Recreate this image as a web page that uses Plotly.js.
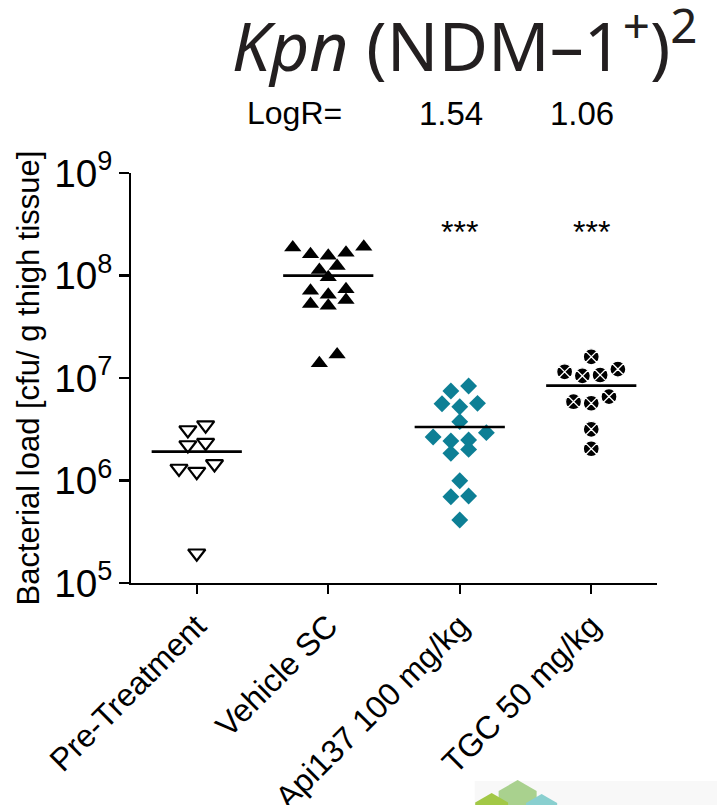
<!DOCTYPE html>
<html>
<head>
<meta charset="utf-8">
<script src="https://cdn.plot.ly/plotly-3.0.1.min.js"></script>
<style>html,body{margin:0;padding:0;background:#fff;}#chart{width:717px;height:805px;}</style>
</head>
<body>
<div id="chart"></div>
<script>
// ---- data ----
const groups = ['Pre-Treatment', 'Vehicle SC', 'Api137 100 mg/kg', 'TGC 50 mg/kg'];
const preTreatment = [3.11e6, 3.47e6, 2.22e6, 2.34e6, 1.31e6, 1.22e6, 1.45e6, 1.95e5];
const vehicleSC = [1.88e8, 1.61e8, 1.56e8, 1.67e8, 1.91e8, 1.24e8, 1.13e8, 9.6e7,
                   7.33e7, 6.5e7, 7.1e7, 5.27e7, 5.07e7, 5.77e7, 1.39e7, 1.70e7];
const api137 = [8.35e6, 7.47e6, 5.66e6, 5.25e6, 5.61e6, 3.75e6, 2.66e6, 2.93e6,
                2.43e6, 2.48e6, 1.84e6, 2.01e6, 9.95e5, 7.06e5, 6.95e5, 4.12e5];
const tgc = [1.61e7, 1.22e7, 1.07e7, 1.05e7, 1.15e7, 6.58e6, 5.67e6, 5.87e6, 3.16e6, 2.04e6];
const logR = ['', '', '1.54', '1.06'];
const significance = ['', '', '***', '***'];
const yExponents = [5, 9];   // axis spans 10^5 .. 10^9
const logRLabel = 'LogR=';
const yTitle = 'Bacterial load [cfu/ g thigh tissue]';

// ---- helpers ----
const SLOT = 0.135;      // horizontal spacing of swarm columns (category units)
const ROW = 0.1;         // decades grouped into one swarm row
const HALF = 0.343;      // half width of mean line
const X_RANGE = [-0.5, 3.5];

function swarmX(vals, center) {
  const idx = vals.map((v, i) => i).sort((a, b) => vals[b] - vals[a]);
  const rows = [];
  let cur = null;
  idx.forEach(i => {
    const lv = Math.log10(vals[i]);
    if (!cur || cur.start - lv > ROW) { cur = {start: lv, items: []}; rows.push(cur); }
    cur.items.push(i);
  });
  const xs = new Array(vals.length);
  rows.forEach(r => {
    const n = r.items.length;
    const pos = [];
    for (let j = 0; j < n; j++) pos.push(j - (n - 1) / 2);
    let lo = 0, hi = n - 1;
    r.items.forEach((i, k) => {
      const s = (k % 2 === 0) ? pos[hi--] : pos[lo++];
      xs[i] = center + s * SLOT;
    });
  });
  return xs;
}
const mean = a => a.reduce((s, v) => s + v, 0) / a.length;

const series = [preTreatment, vehicleSC, api137, tgc];
const markers = [
  {symbol: 'triangle-down-open', size: 15, color: '#000', line: {color: '#000', width: 2.2}},
  {symbol: 'triangle-up', size: 15, color: '#000', line: {color: '#000', width: 0}},
  {symbol: 'diamond', size: 13, color: '#0d7f95', line: {color: '#0d7f95', width: 0}},
  {symbol: 'circle-x', size: 16, color: '#000', line: {color: '#fff', width: 1.3}}
];

const traces = [];
series.forEach((vals, g) => {
  traces.push({
    type: 'scatter', mode: 'markers',
    x: swarmX(vals, g), y: vals,
    marker: markers[g], hoverinfo: 'y', showlegend: false, cliponaxis: false
  });
});
series.forEach((vals, g) => {
  const m = mean(vals);
  traces.push({
    type: 'scatter', mode: 'lines',
    x: [g - HALF, g + HALF], y: [m, m],
    line: {color: '#000', width: 2.6}, hoverinfo: 'skip', showlegend: false
  });
});

// minor log ticks (2..9 in every decade), drawn as short horizontal dashes left of the y axis
const minorVals = [];
for (let e = yExponents[0]; e < yExponents[1]; e++)
  for (let k = 2; k <= 9; k++) minorVals.push(k * Math.pow(10, e));
const pxPerUnit = 526.5 / (X_RANGE[1] - X_RANGE[0]);
traces.push({
  type: 'scatter', mode: 'markers',
  x: minorVals.map(() => X_RANGE[0] - 3.6 / pxPerUnit), y: minorVals,
  marker: {symbol: 'line-ew', size: 7, color: '#000', line: {color: '#000', width: 2}},
  cliponaxis: false, hoverinfo: 'skip', showlegend: false
});

const FONT = 'Liberation Sans, Arial, sans-serif';
const annotations = [];
significance.forEach((s, g) => {
  if (s) annotations.push({x: g, y: 8.42, xref: 'x', yref: 'y', text: s, showarrow: false,
    font: {family: FONT, size: 32, color: '#000'}, yanchor: 'middle'});
});
annotations.push({x: 1.12, y: 1.146, xref: 'x', yref: 'paper', text: logRLabel, showarrow: false,
  xanchor: 'right', yanchor: 'middle', font: {family: FONT, size: 32, color: '#000'}});
logR.forEach((t, g) => {
  if (t) annotations.push({x: g - 0.07, y: 1.146, xref: 'x', yref: 'paper', text: t, showarrow: false,
    xanchor: 'center', yanchor: 'middle', font: {family: FONT, size: 33, color: '#000'}});
});

// decorative logo fragment at the bottom right
function hex(cx, cy, r) {
  let p = '';
  for (let k = 0; k < 6; k++) {
    const a = Math.PI / 180 * (60 * k - 90);
    const px = (cx + r * Math.cos(a) - 131) / 526.5;
    const py = (583 - (cy + r * Math.sin(a))) / 410;
    p += (k === 0 ? 'M' : 'L') + px.toFixed(4) + ',' + py.toFixed(4);
  }
  return p + 'Z';
}
const shapes = [
  {type: 'rect', xref: 'paper', yref: 'paper', x0: (475 - 131) / 526.5, x1: 1.2,
   y0: (583 - 810) / 410, y1: (583 - 781) / 410, fillcolor: '#f8f8f8', line: {width: 0}, layer: 'below'},
  {type: 'path', xref: 'paper', yref: 'paper', path: hex(518, 802, 22), fillcolor: '#a9d18e', line: {width: 0}},
  {type: 'path', xref: 'paper', yref: 'paper', path: hex(492, 812, 19), fillcolor: '#a2c846', line: {width: 0}},
  {type: 'path', xref: 'paper', yref: 'paper', path: hex(542, 812, 18), fillcolor: '#89cfcf', line: {width: 0}}
];

const layout = {
  width: 717, height: 805,
  margin: {l: 131, r: 59.5, t: 173, b: 222, pad: 0},
  paper_bgcolor: '#fff', plot_bgcolor: '#fff',
  font: {family: FONT, color: '#000'},
  title: {
    text: '<i>Kpn</i> (NDM–1<sup>+</sup>)<sup>2</sup>',
    font: {family: 'Noto Sans', size: 68, color: '#231f20'},
    xref: 'container', x: 0.648, xanchor: 'center',
    yref: 'container', y: 0.941, yanchor: 'middle'
  },
  xaxis: {
    range: X_RANGE, tickmode: 'array', tickvals: [0, 1, 2, 3], ticktext: groups,
    tickangle: -45, ticks: 'outside', ticklen: 9, tickwidth: 2.4, tickcolor: '#000',
    showline: true, linewidth: 2.4, linecolor: '#000', showgrid: false, zeroline: false,
    tickfont: {family: FONT, size: 32, color: '#000'}, fixedrange: true
  },
  yaxis: {
    type: 'log', range: yExponents, dtick: 1, exponentformat: 'power',
    ticks: 'outside', ticklen: 10, tickwidth: 2.4, tickcolor: '#000',
    showline: true, linewidth: 2.4, linecolor: '#000', showgrid: false, zeroline: false,
    tickfont: {family: FONT, size: 31, color: '#000'},
    title: {text: yTitle, font: {family: FONT, size: 31, color: '#000'}, standoff: 6},
    fixedrange: true
  },
  annotations: annotations,
  shapes: shapes,
  showlegend: false
};

Plotly.newPlot('chart', traces, layout, {displayModeBar: false, staticPlot: true});
</script>
</body>
</html>
